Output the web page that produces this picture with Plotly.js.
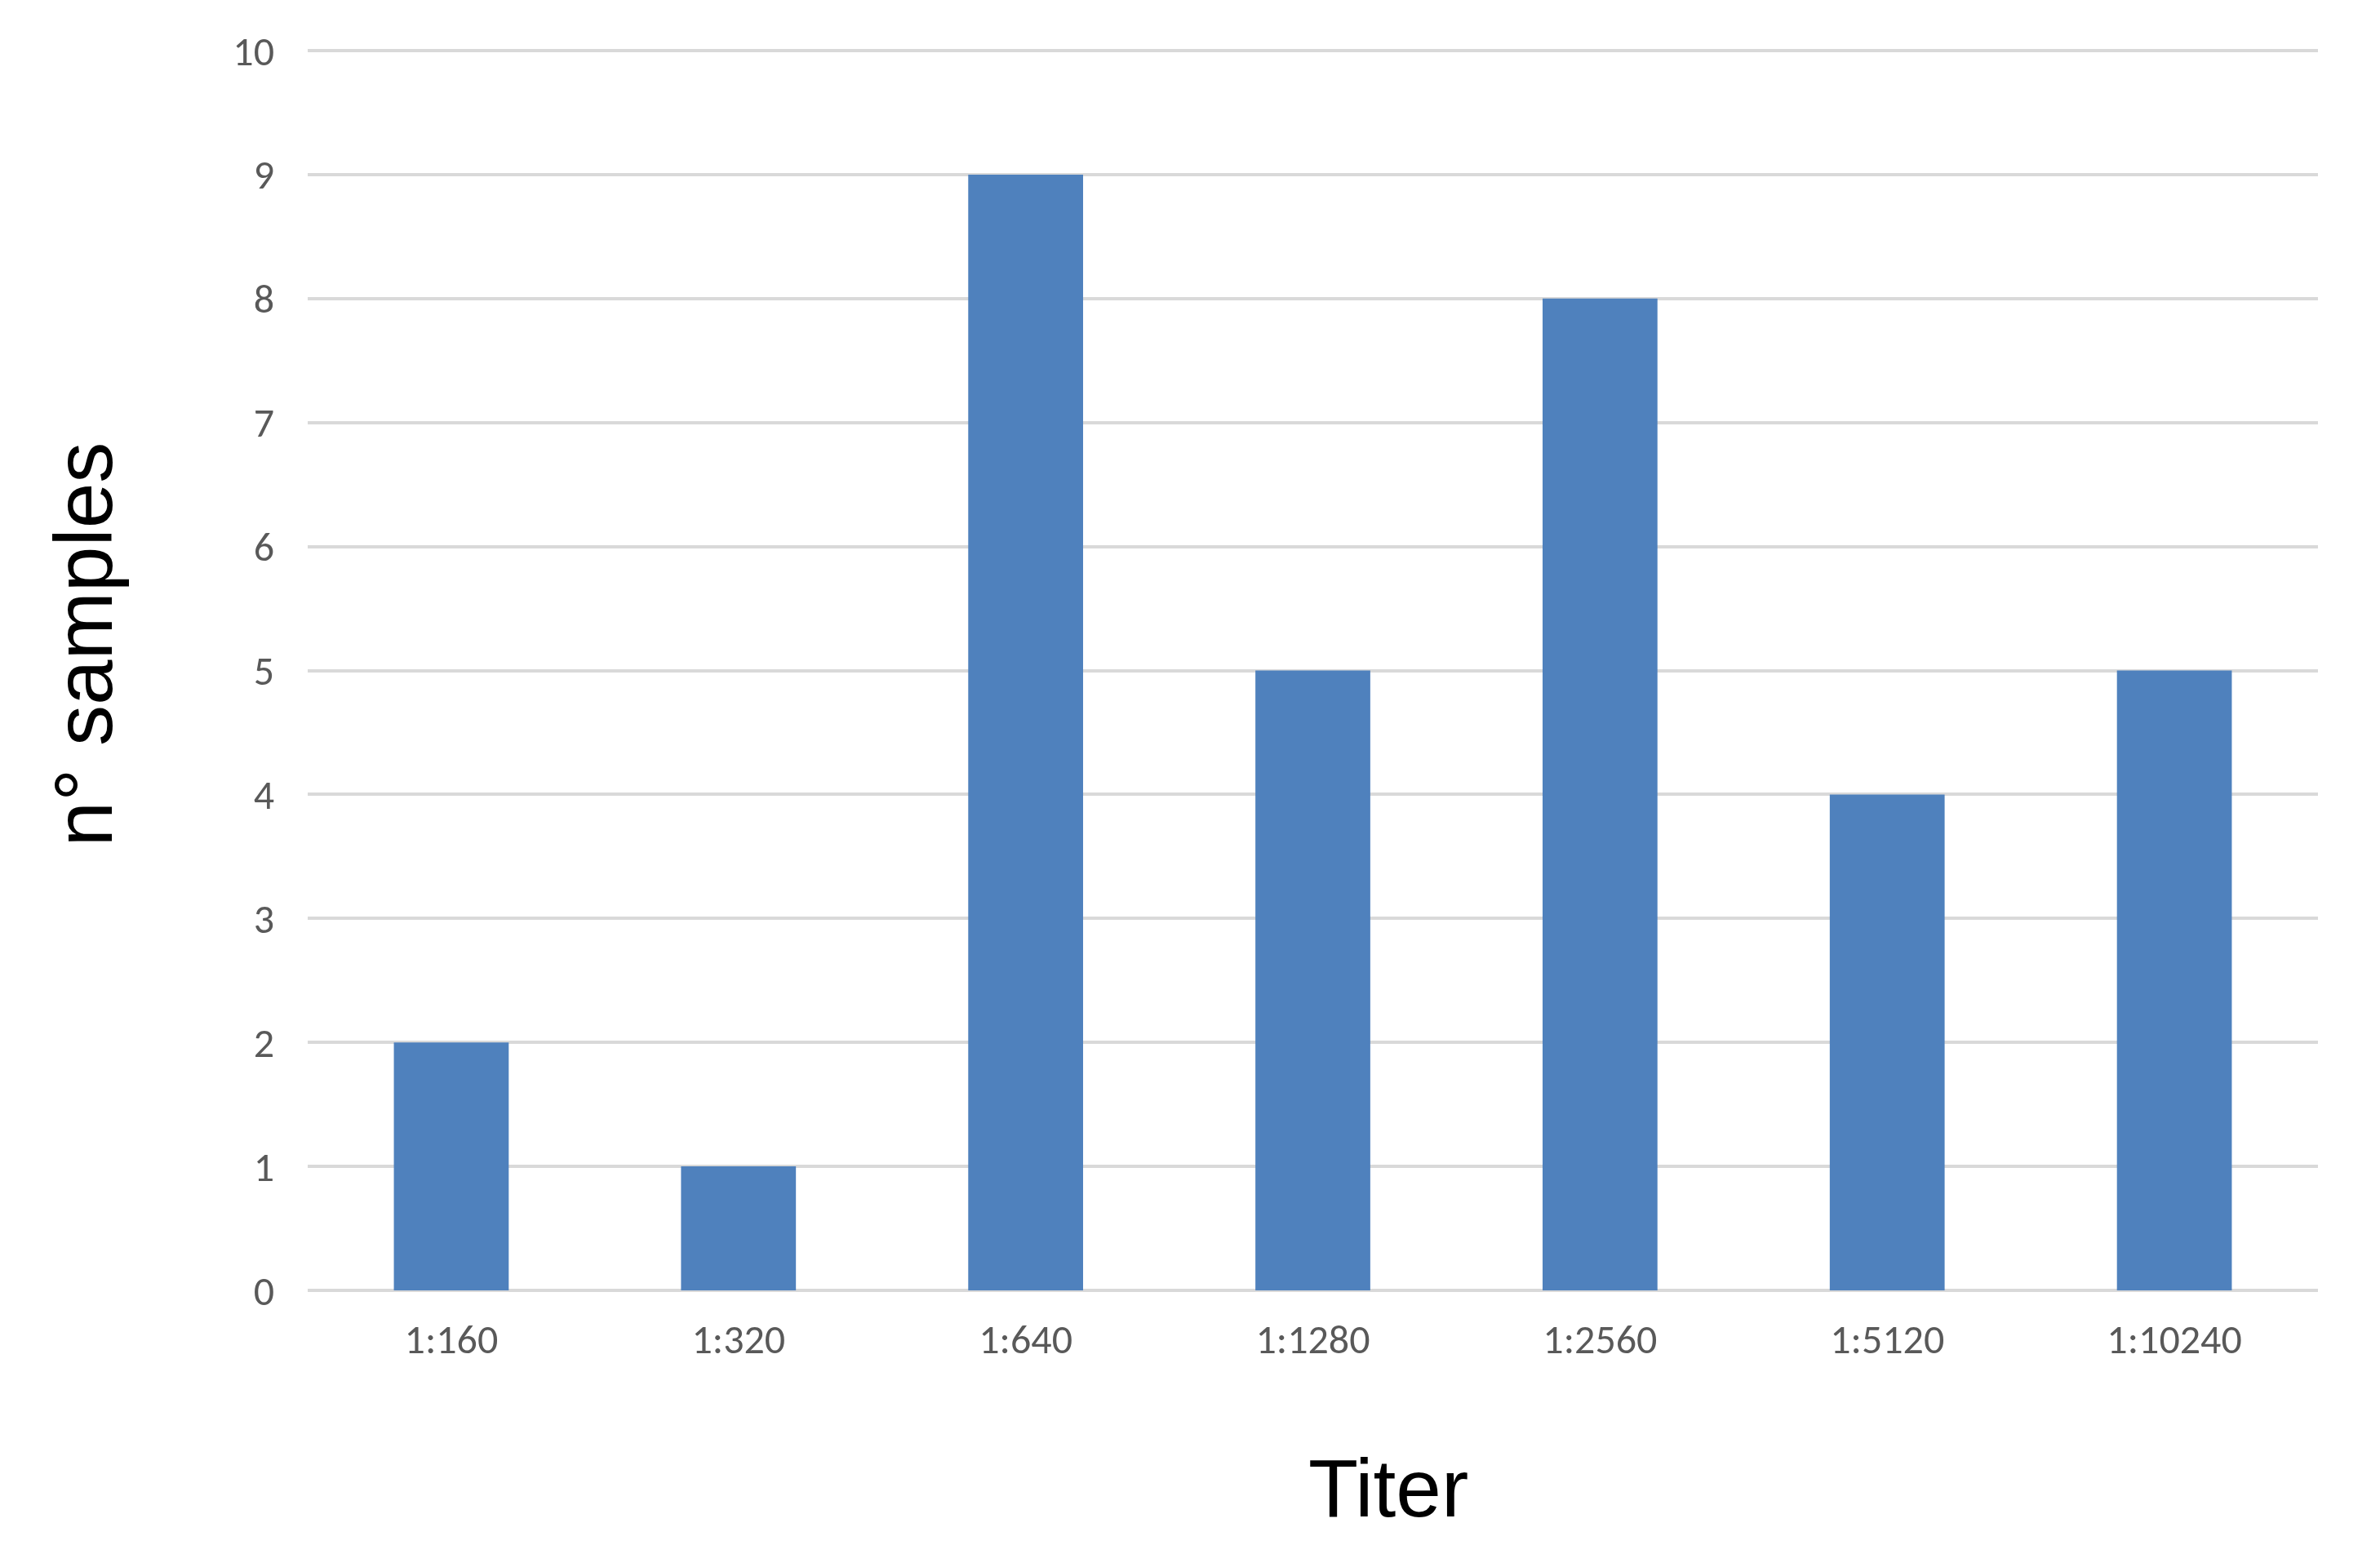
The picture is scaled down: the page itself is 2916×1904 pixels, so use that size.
<!DOCTYPE html>
<html>
<head>
<meta charset="utf-8">
<script src="https://cdn.plot.ly/plotly-3.0.1.min.js"></script>
<style>html,body{margin:0;padding:0;background:#fff;}</style>
</head>
<body>
<div id="chart" style="width:2916px;height:1904px;"></div>
<script>
const titers = ["1:160", "1:320", "1:640", "1:1280", "1:2560", "1:5120", "1:10240"];
const samples = [2, 1, 9, 5, 8, 4, 5];
const yTicks = [0, 1, 2, 3, 4, 5, 6, 7, 8, 9, 10];

const tickFont = {family: "Calibri, Carlito, Lato, sans-serif", size: 50, color: "#595959"};
const titleFont = {family: "Arial, 'Liberation Sans', sans-serif", size: 100, color: "#000000"};

Plotly.newPlot("chart", [{
  type: "bar",
  x: titers,
  y: samples,
  marker: {color: "#4f81bd"},
  hoverinfo: "x+y"
}], {
  width: 2916,
  height: 1904,
  margin: {l: 377, r: 76, t: 59, b: 323},
  paper_bgcolor: "#ffffff",
  plot_bgcolor: "#ffffff",
  bargap: 0.6,
  showlegend: false,
  xaxis: {
    type: "category",
    tickfont: tickFont,
    showgrid: false,
    showline: false,
    zeroline: false,
    ticks: "",
    ticklabelstandoff: 26
  },
  yaxis: {
    range: [0, 10.02],
    tickvals: yTicks,
    tickfont: tickFont,
    showgrid: true,
    gridcolor: "#d9d9d9",
    gridwidth: 4,
    zeroline: true,
    zerolinecolor: "#d9d9d9",
    zerolinewidth: 4,
    showline: false,
    ticks: "",
    ticklabelstandoff: 40
  },
  annotations: [
    {text: "Titer", xref: "paper", yref: "paper", x: 0.5375, y: -0.159,
     xanchor: "center", yanchor: "middle", showarrow: false, font: titleFont},
    {text: "n° samples", xref: "paper", yref: "paper", x: -0.1117, y: 0.52,
     xanchor: "center", yanchor: "middle", textangle: -90, showarrow: false, font: titleFont}
  ]
}, {displayModeBar: false, staticPlot: true});
</script>
</body>
</html>
